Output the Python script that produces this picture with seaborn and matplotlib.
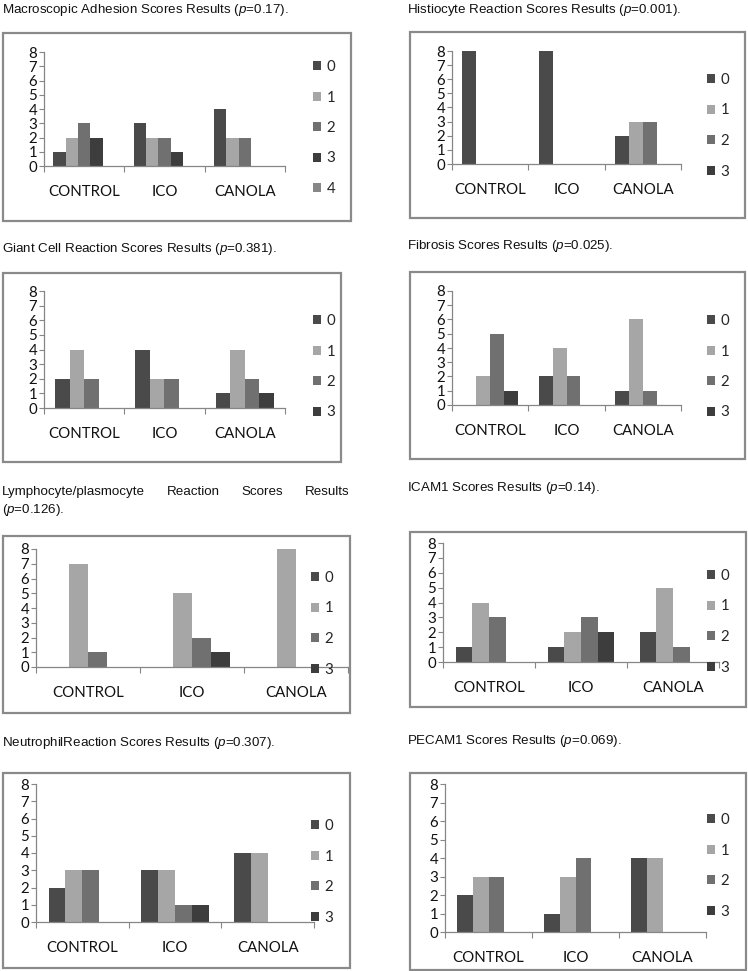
import matplotlib
matplotlib.use("Agg")
import matplotlib.pyplot as plt
import seaborn as sns
import pandas as pd
from matplotlib.patches import Rectangle, Patch

# ---------------- data ----------------
groups = ["CONTROL", "ICO", "CANOLA"]
scores4 = ["0", "1", "2", "3"]
scores5 = ["0", "1", "2", "3", "4"]

# rows = groups (CONTROL, ICO, CANOLA), columns = score levels
adhesion = [[1, 2, 3, 2, 0], [3, 2, 2, 1, 0], [4, 2, 2, 0, 0]]
histiocyte = [[8, 0, 0, 0], [8, 0, 0, 0], [2, 3, 3, 0]]
giant_cell = [[2, 4, 2, 0], [4, 2, 2, 0], [1, 4, 2, 1]]
fibrosis = [[0, 2, 5, 1], [2, 4, 2, 0], [1, 6, 1, 0]]
lymphocyte = [[0, 7, 1, 0], [0, 5, 2, 1], [0, 8, 0, 0]]
icam1 = [[1, 4, 3, 0], [1, 2, 3, 2], [2, 5, 1, 0]]
neutrophil = [[2, 3, 3, 0], [3, 3, 1, 1], [4, 4, 0, 0]]
pecam1 = [[2, 3, 3, 0], [1, 3, 4, 0], [4, 4, 0, 0]]

titles = [
    r"Macroscopic Adhesion Scores Results ($p$=0.17).",
    r"Histiocyte Reaction Scores Results ($p$=0.001).",
    r"Giant Cell Reaction Scores Results ($p$=0.381).",
    r"Fibrosis Scores Results ($p$=0.025).",
    None,
    r"ICAM1 Scores Results ($p$=0.14).",
    r"NeutrophilReaction Scores Results ($p$=0.307).",
    r"PECAM1 Scores Results ($p$=0.069).",
]
lymph_title_words = ["Lymphocyte/plasmocyte", "Reaction", "Scores", "Results"]
lymph_title_line2 = r"($p$=0.126)."
yticks = [0, 1, 2, 3, 4, 5, 6, 7, 8]
colors = ["#4a4a4a", "#a6a6a6", "#707070", "#3d3d3d", "#878787"]

# ---------------- style ----------------
sns.set_style("white")
plt.rcParams["font.family"] = ["Lato", "DejaVu Sans"]
plt.rcParams["mathtext.fontset"] = "custom"
plt.rcParams["mathtext.it"] = "Liberation Sans:italic"
plt.rcParams["mathtext.rm"] = "Liberation Sans"

W, H = 748, 971
fig = plt.figure(figsize=(W / 100, H / 100), dpi=100)
fig.patch.set_facecolor("white")

# layout in pixels
panels = [
    dict(data=adhesion, levels=scores5, title=(2, 10), box=(3, 33, 351, 221),
         axes=(44, 285, 52, 166), leg=(313, 67)),
    dict(data=histiocyte, levels=scores4, title=(407, 10), box=(410, 32, 745, 218),
         axes=(452, 681, 51, 164), leg=(707, 80)),
    dict(data=giant_cell, levels=scores4, title=(2, 249), box=(3, 273, 341, 462),
         axes=(44, 285, 291, 408), leg=(313, 321)),
    dict(data=fibrosis, levels=scores4, title=(407, 246), box=(410, 272, 745, 459),
         axes=(452, 681, 291, 405), leg=(707, 321)),
    dict(data=lymphocyte, levels=scores4, title=None, box=(3, 536, 350, 713),
         axes=(36, 348, 549, 667), leg=(311, 578)),
    dict(data=icam1, levels=scores4, title=(407, 488), box=(410, 532, 746, 707),
         axes=(443, 719, 543, 662), leg=(707, 576)),
    dict(data=neutrophil, levels=scores4, title=(2, 743), box=(3, 773, 350, 968),
         axes=(36, 314, 784, 922), leg=(311, 826)),
    dict(data=pecam1, levels=scores4, title=(407, 741), box=(410, 773, 746, 970),
         axes=(445, 706, 784, 932), leg=(707, 820)),
]

AX_COLOR = "#868686"
TITLE_FONT = dict(family="Liberation Sans", fontsize=9.6, color="#111111")

for i, p in enumerate(panels):
    # outer frame
    x0, y0, x1, y1 = p["box"]
    fig.add_artist(Rectangle((x0 / W, 1 - y1 / H), (x1 - x0) / W, (y1 - y0) / H,
                             transform=fig.transFigure, fill=False,
                             edgecolor="#8a8a8a", linewidth=1.6))
    # title
    if p["title"] is not None:
        tx, ty = p["title"]
        fig.text(tx / W, 1 - ty / H, titles[i], ha="left", va="center", **TITLE_FONT)

    l, r, ytop, ybase = p["axes"]
    ax = fig.add_axes([l / W, 1 - ybase / H, (r - l) / W, (ybase - ytop) / H])
    levels = p["levels"]
    n = len(levels)
    df = pd.DataFrame(
        [(g, s, v) for g, row in zip(groups, p["data"]) for s, v in zip(levels, row)],
        columns=["group", "score", "count"],
    )
    sns.barplot(data=df, x="group", y="count", hue="score", order=groups,
                hue_order=levels, palette=colors[:n], width=n / (n + 1.5),
                saturation=1, linewidth=0, errorbar=None, legend=False, ax=ax)
    ax.set_xlim(-0.5, 2.5)
    ax.set_ylim(0, 8)
    ax.set_yticks(yticks)
    ax.set_yticklabels([str(t) for t in yticks])
    ax.set_xlabel("")
    ax.set_ylabel("")
    ax.set_facecolor("none")
    for s in ("top", "right"):
        ax.spines[s].set_visible(False)
    for s in ("left", "bottom"):
        ax.spines[s].set_color(AX_COLOR)
        ax.spines[s].set_linewidth(0.9)
    ax.tick_params(axis="y", length=3.5, width=0.8, color=AX_COLOR, pad=1.5,
                   labelsize=10.8, labelcolor="#111111", left=True)
    ax.tick_params(axis="x", which="major", length=0, pad=14, labelsize=10.8,
                   labelcolor="#111111")
    ax.set_xticks([-0.5, 0.5, 1.5, 2.5], minor=True)
    ax.tick_params(axis="x", which="minor", length=4, width=0.8, color=AX_COLOR,
                   bottom=True)

    # legend
    lx, lfirst = p["leg"]
    handles = [Patch(facecolor=colors[k], edgecolor="none", label=levels[k])
               for k in range(n)]
    ax.legend(handles=handles, loc="upper left",
              bbox_to_anchor=(lx / W, 1 - (lfirst - 7.0) / H),
              bbox_transform=fig.transFigure, frameon=False, borderpad=0,
              borderaxespad=0, handlelength=0.55, handleheight=0.55,
              handletextpad=0.35, labelspacing=1.1, fontsize=10.8)

# justified two-line title for the lymphocyte panel (left 2 px, right 349 px)
left_px, right_px, line1_y = 2, 349, 492
word_texts = [fig.text(0, 1 - line1_y / H, w, ha="left", va="center", **TITLE_FONT)
              for w in lymph_title_words]
fig.canvas.draw()
renderer = fig.canvas.get_renderer()
widths = [t.get_window_extent(renderer).width for t in word_texts]
gap = (right_px - left_px - sum(widths)) / (len(widths) - 1)
x = left_px
for t, w in zip(word_texts, widths):
    t.set_x(x / W)
    x += w + gap
fig.text(2 / W, 1 - 510 / H, lymph_title_line2, ha="left", va="center", **TITLE_FONT)

fig.savefig("out.png", dpi=100, facecolor="white")
